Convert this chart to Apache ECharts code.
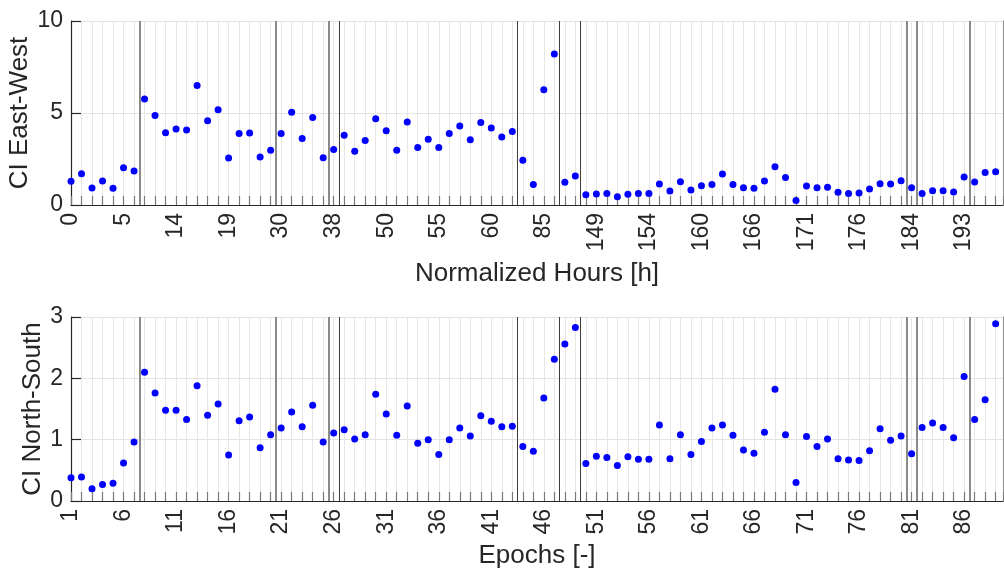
<!DOCTYPE html>
<html>
<head>
<meta charset="utf-8">
<title>CI East-West / North-South</title>
<script src="https://cdn.jsdelivr.net/npm/echarts@6/dist/echarts.min.js"></script>
<style>
  html, body { margin: 0; padding: 0; background: #ffffff; }
  #chart { width: 1004px; height: 568px; }
</style>
</head>
<body>
<div id="chart"></div>
<script>
// Tick labels shown every fifth epoch
const hourLabels = ['0', '5', '14', '19', '30', '38', '50', '55', '60', '85',
                    '149', '154', '160', '166', '171', '176', '184', '193'];
const epochLabels = ['1', '6', '11', '16', '21', '26', '31', '36', '41', '46',
                     '51', '56', '61', '66', '71', '76', '81', '86'];

// CI values per epoch (epochs 1..89)
const ewValues = [
  1.29, 1.70, 0.92, 1.30, 0.91, 2.03, 1.85, 5.76, 4.87, 3.93,
  4.13, 4.08, 6.50, 4.58, 5.18, 2.55, 3.89, 3.91, 2.61, 2.97,
  3.89, 5.04, 3.61, 4.75, 2.57, 3.01, 3.79, 2.92, 3.50, 4.69,
  4.04, 2.97, 4.51, 3.12, 3.57, 3.13, 3.88, 4.29, 3.55, 4.49,
  4.18, 3.70, 3.99, 2.43, 1.11, 6.27, 8.21, 1.23, 1.58, 0.56,
  0.60, 0.63, 0.45, 0.58, 0.62, 0.63, 1.14, 0.76, 1.27, 0.82,
  1.05, 1.12, 1.68, 1.11, 0.94, 0.91, 1.30, 2.08, 1.49, 0.24,
  1.03, 0.94, 0.96, 0.69, 0.62, 0.65, 0.87, 1.16, 1.14, 1.32,
  0.94, 0.63, 0.78, 0.78, 0.71, 1.52, 1.25, 1.76, 1.81
];
const nsValues = [
  0.38, 0.39, 0.20, 0.27, 0.29, 0.62, 0.96, 2.10, 1.76, 1.48,
  1.48, 1.33, 1.88, 1.40, 1.58, 0.75, 1.31, 1.37, 0.87, 1.08,
  1.19, 1.45, 1.21, 1.56, 0.96, 1.11, 1.16, 1.01, 1.08, 1.74,
  1.42, 1.07, 1.55, 0.94, 1.00, 0.76, 1.00, 1.19, 1.06, 1.39,
  1.30, 1.21, 1.22, 0.89, 0.81, 1.68, 2.31, 2.56, 2.83, 0.61,
  0.73, 0.71, 0.58, 0.72, 0.68, 0.68, 1.24, 0.69, 1.08, 0.76,
  0.97, 1.19, 1.24, 1.07, 0.83, 0.78, 1.12, 1.82, 1.08, 0.30,
  1.05, 0.89, 1.01, 0.69, 0.67, 0.66, 0.82, 1.18, 0.99, 1.06,
  0.77, 1.20, 1.27, 1.20, 1.03, 2.03, 1.33, 1.65, 2.89
];

// Session boundaries between epochs
const grayBreaks = [7.5, 20.5, 25.5, 80.5, 81.5, 86.5];
const darkBreaks = [26.5, 43.5, 47.5, 49.5];

const FONT = '"Liberation Sans", Arial, Helvetica, sans-serif';
const TXT = '#262626';

function labelFor(list) {
  return function (v) {
    if (Math.abs(v - Math.round(v)) > 1e-6) return '';
    const k = Math.round(v) - 1;
    return k % 5 === 0 ? (list[k / 5] || '') : '';
  };
}

function xAxisCfg(gridIndex, list, name, gap) {
  return {
    type: 'value', gridIndex: gridIndex, min: 1, max: 89.7, interval: 1,
    name: name, nameLocation: 'middle', nameGap: gap, nameMoveOverlap: false,
    nameTextStyle: { fontFamily: FONT, fontSize: 26, color: TXT },
    axisLine: { show: true, onZero: false, lineStyle: { color: TXT, width: 1.2 } },
    axisTick: { show: true, inside: true, length: 9, lineStyle: { color: '#7a7a7a', width: 1.2 } },
    axisLabel: {
      show: true, rotate: 90, margin: 8, formatter: labelFor(list),
      fontFamily: FONT, fontSize: 23, color: TXT,
      showMinLabel: true, showMaxLabel: true, hideOverlap: false, interval: 0
    },
    splitLine: { show: true, lineStyle: { color: '#e6e6e6', width: 1 } }
  };
}

function yAxisCfg(gridIndex, max, step, name, gap) {
  return {
    type: 'value', gridIndex: gridIndex, min: 0, max: max, interval: step,
    name: name, nameLocation: 'middle', nameGap: gap, nameMoveOverlap: false,
    nameTextStyle: { fontFamily: FONT, fontSize: 26, color: TXT },
    axisLine: { show: true, lineStyle: { color: TXT, width: 1.2 } },
    axisTick: { show: true, inside: true, length: 10, lineStyle: { color: TXT, width: 1.2 } },
    axisLabel: { margin: 8, fontFamily: FONT, fontSize: 23, color: TXT },
    splitLine: { show: true, lineStyle: { color: '#e3e3e3', width: 1 } }
  };
}

function rightEdge(gridIndex) {
  return {
    type: 'value', gridIndex: gridIndex, position: 'right',
    axisLine: { show: true, lineStyle: { color: '#8c8c8c', width: 1 } },
    axisTick: { show: false }, axisLabel: { show: false }, splitLine: { show: false }
  };
}

function breakLines() {
  return {
    silent: true, symbol: 'none', animation: false,
    label: { show: false },
    data: grayBreaks.map(x => ({ xAxis: x, lineStyle: { color: '#8a8a8a', width: 2, type: 'solid' } }))
      .concat(darkBreaks.map(x => ({ xAxis: x, lineStyle: { color: '#3c3c3c', width: 1, type: 'solid' } })))
  };
}

const toPoints = arr => arr.map((v, i) => [i + 1, v]);

const chart = echarts.init(document.getElementById('chart'), null, { renderer: 'canvas' });
chart.setOption({
  animation: false,
  backgroundColor: '#ffffff',
  grid: [
    { left: 71, right: 1, top: 21, height: 184, outerBoundsMode: 'none', containLabel: false },
    { left: 71, right: 1, top: 317, height: 184, outerBoundsMode: 'none', containLabel: false }
  ],
  xAxis: [
    xAxisCfg(0, hourLabels, 'Normalized Hours [h]', 56),
    xAxisCfg(1, epochLabels, 'Epochs [-]', 42)
  ],
  yAxis: [
    yAxisCfg(0, 10, 5, 'CI East-West', 38),
    yAxisCfg(1, 3, 1, 'CI North-South', 25),
    rightEdge(0),
    rightEdge(1)
  ],
  series: [
    {
      type: 'scatter', xAxisIndex: 0, yAxisIndex: 0, data: toPoints(ewValues),
      symbol: 'circle', symbolSize: 7, itemStyle: { color: '#0000ff', opacity: 1 },
      markLine: breakLines(), z: 3
    },
    {
      type: 'scatter', xAxisIndex: 1, yAxisIndex: 1, data: toPoints(nsValues),
      symbol: 'circle', symbolSize: 7, itemStyle: { color: '#0000ff', opacity: 1 },
      markLine: breakLines(), z: 3
    }
  ]
});
</script>
</body>
</html>
